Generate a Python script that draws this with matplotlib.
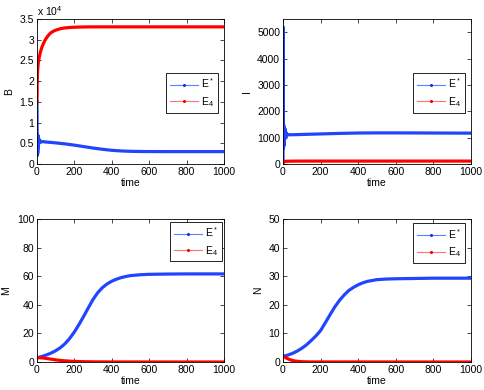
import matplotlib
matplotlib.use('Agg')
import matplotlib.pyplot as plt
from matplotlib.lines import Line2D
from matplotlib.ticker import FuncFormatter

plt.rcParams['font.family'] = ['Liberation Sans', 'DejaVu Sans']
plt.rcParams['mathtext.default'] = 'regular'
plt.rcParams['font.size'] = 7.5

BLUE = (0.13, 0.27, 1.0)
RED = (1.0, 0.0, 0.0)

# B
b_blue_t = [0, 0.5, 1, 1.5, 2, 2.5, 3, 3.5, 4, 5, 6, 7, 8, 9, 10, 12, 14, 17, 20, 30,
            50, 100, 150, 200, 250, 300, 350, 400, 450, 500, 550, 600, 700, 1000]
b_blue = [15000, 9000, 3000, 2000, 6500, 3000, 5000, 7000, 2500, 6800, 4000, 6500, 4500,
          6200, 5000, 5800, 5200, 5600, 5400, 5400, 5300, 5100, 4850, 4550, 4200, 3850,
          3550, 3300, 3150, 3060, 3020, 3000, 2990, 2990]
b_red_t = [0, 1, 2, 3, 5, 7, 10, 15, 20, 25, 30, 40, 50, 60, 70, 80, 90, 100, 125, 150,
           175, 200, 250, 300, 1000]
b_red = [15000, 19000, 21000, 22200, 23500, 24400, 25300, 26400, 27300, 28000, 28600,
         29600, 30400, 31000, 31500, 31850, 32100, 32300, 32650, 32850, 32950, 33020,
         33080, 33100, 33100]

# I
i_blue_t = [0, 0.5, 1, 1.5, 2, 2.5, 3, 3.5, 4, 5, 6, 7, 8, 9, 10, 12, 14, 16, 18, 20,
            25, 30, 50, 100, 200, 300, 400, 500, 600, 800, 1000]
i_blue = [0, 2000, 5200, 3500, 1500, 600, 1000, 1500, 800, 1400, 700, 1300, 900, 1350,
          1000, 1300, 1000, 1200, 1050, 1150, 1100, 1110, 1110, 1120, 1140, 1160, 1175,
          1180, 1180, 1175, 1170]
i_red_t = [0, 0.5, 1, 2, 5, 10, 20, 50, 100, 1000]
i_red = [0, 20, 40, 60, 85, 100, 105, 108, 110, 110]

# M
m_blue_t = [0, 25, 50, 75, 100, 125, 150, 175, 200, 225, 250, 275, 300, 325, 350, 375,
            400, 425, 450, 475, 500, 550, 600, 700, 800, 1000]
m_blue = [3, 3.8, 4.9, 6.2, 7.9, 10, 12.8, 16.5, 21, 26.3, 32, 38, 43.8, 48.5, 52, 54.6,
          56.5, 57.9, 59, 59.8, 60.4, 61, 61.3, 61.5, 61.6, 61.6]
m_red_t = [0, 25, 50, 75, 100, 125, 150, 175, 200, 250, 300, 400, 1000]
m_red = [3, 2.9, 2.5, 2.0, 1.5, 1.1, 0.8, 0.6, 0.4, 0.2, 0.1, 0.03, 0]

# N
n_blue_t = [0, 25, 50, 75, 100, 125, 150, 175, 200, 225, 250, 275, 300, 325, 350, 375,
            400, 425, 450, 475, 500, 550, 600, 700, 800, 1000]
n_blue = [2, 2.4, 3, 3.8, 4.8, 6, 7.5, 9.1, 11, 13.7, 16.5, 19.2, 21.5, 23.4, 25, 26.1,
          27, 27.7, 28.2, 28.5, 28.8, 29, 29.1, 29.2, 29.3, 29.3]
n_red_t = [0, 10, 20, 30, 40, 50, 60, 75, 100, 150, 1000]
n_red = [2, 1.7, 1.3, 1.0, 0.75, 0.55, 0.4, 0.25, 0.1, 0.02, 0]

panels = [
    ('B', b_blue_t, b_blue, b_red_t, b_red, (0, 35000), list(range(0, 35001, 5000)),
     [0.0764, 0.5795, 0.3864, 0.3718], (0.968, 0.628)),
    ('I', i_blue_t, i_blue, i_red_t, i_red, (0, 5500), list(range(0, 5001, 1000)),
     [0.5847, 0.5795, 0.3884, 0.3718], (0.968, 0.628)),
    ('M', m_blue_t, m_blue, m_red_t, m_red, (0, 100), list(range(0, 101, 20)),
     [0.0764, 0.0718, 0.3864, 0.3667], (0.99, 0.98)),
    ('N', n_blue_t, n_blue, n_red_t, n_red, (0, 50), list(range(0, 51, 10)),
     [0.5847, 0.0718, 0.3884, 0.3667], (0.968, 0.97)),
]

fig = plt.figure(figsize=(4.84, 3.90), dpi=100)

for name, bt, bv, rt, rv, ylim, yticks, rect, leg_pos in panels:
    ax = fig.add_axes(rect)
    ax.plot(bt, bv, color=BLUE, lw=2.3)
    ax.plot(rt, rv, color=RED, lw=2.3)
    ax.set_xlim(0, 1000)
    ax.set_ylim(*ylim)
    ax.set_xticks(range(0, 1001, 200))
    ax.set_yticks(yticks)
    ax.tick_params(direction='in', top=True, right=True, length=3, width=0.5, pad=2)
    for sp in ax.spines.values():
        sp.set_linewidth(0.6)
    ax.set_xlabel('time', labelpad=1)
    ax.set_ylabel(name, labelpad=4)
    if name == 'B':
        ax.yaxis.set_major_formatter(FuncFormatter(lambda v, p: f'{v / 1e4:g}'))
        ax.text(0, 1.01, r'x 10$^4$', transform=ax.transAxes, va='bottom', ha='left')

    handles = [Line2D([], [], color=(0.35, 0.5, 1.0), lw=0.8, marker='.', ms=2.5,
                      mfc=(0.1, 0.2, 0.9), mec=(0.1, 0.2, 0.9)),
               Line2D([], [], color=(1.0, 0.45, 0.45), lw=0.8, marker='.', ms=2.5,
                      mfc=RED, mec=RED)]
    leg = ax.legend(handles, [r'E$^*$', r'E$_4$'], loc='upper right',
                    bbox_to_anchor=leg_pos, borderaxespad=0, fancybox=False,
                    framealpha=1, edgecolor='black', numpoints=1, handlelength=2.7,
                    handletextpad=0.3, borderpad=0.35, labelspacing=0.45, fontsize=7.5)
    leg.get_frame().set_linewidth(0.6)

fig.savefig('out.png', dpi=100)
